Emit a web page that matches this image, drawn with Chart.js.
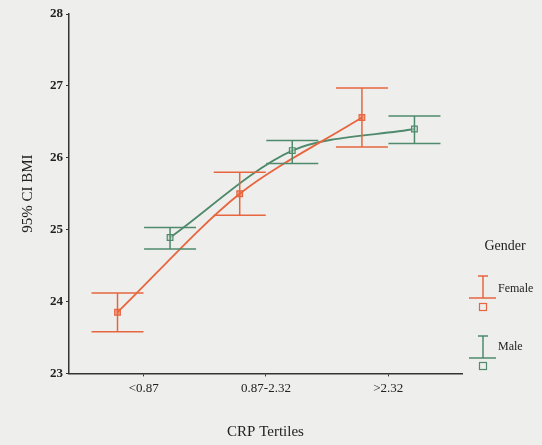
<!DOCTYPE html>
<html>
<head>
<meta charset="utf-8">
<script src="https://cdn.jsdelivr.net/npm/chart.js"></script>
<style>
  html, body { margin: 0; padding: 0; background: #eeeeec; }
  #wrap { position: relative; width: 542px; height: 445px; }
</style>
</head>
<body>
<div id="wrap"><canvas id="bmiChart" width="542" height="445"></canvas></div>
<script>
// CRP tertiles on the x axis
const categories = ['<0.87', '0.87-2.32', '>2.32'];

// mean BMI with 95% CI, per gender
const femaleMean = [23.85, 25.50, 26.56];
const femaleLow  = [23.58, 25.20, 26.15];
const femaleHigh = [24.12, 25.80, 26.97];

const maleMean = [24.89, 26.10, 26.40];
const maleLow  = [24.73, 25.92, 26.20];
const maleHigh = [25.03, 26.24, 26.58];

const yTicks = [23, 24, 25, 26, 27, 28];

const FEMALE = '#e8663f';
const MALE = '#4f8a6c';
const DODGE = 0.215;

const toPoints = (vals, shift) => vals.map((v, i) => ({ x: i + shift, y: v }));

// draws the CI whiskers and the little gender legend
const errorBars = {
    id: 'errorBars',
    afterDatasetsDraw(chart) {
        const { ctx, scales: { x, y } } = chart;
        const groups = [
            { low: femaleLow, high: femaleHigh, shift: -DODGE, color: FEMALE },
            { low: maleLow, high: maleHigh, shift: DODGE, color: MALE }
        ];
        ctx.save();
        ctx.lineWidth = 1.5;
        groups.forEach(g => {
            ctx.strokeStyle = g.color;
            g.low.forEach((lo, i) => {
                const px = x.getPixelForValue(i + g.shift);
                const top = y.getPixelForValue(g.high[i]);
                const bot = y.getPixelForValue(lo);
                ctx.beginPath();
                ctx.moveTo(px, top); ctx.lineTo(px, bot);
                ctx.moveTo(px - 26, top); ctx.lineTo(px + 26, top);
                ctx.moveTo(px - 26, bot); ctx.lineTo(px + 26, bot);
                ctx.stroke();
            });
        });

        // legend
        ctx.fillStyle = '#222';
        ctx.font = '14px "Liberation Serif", serif';
        ctx.textAlign = 'center';
        ctx.textBaseline = 'middle';
        ctx.fillText('Gender', 505, 246);
        const items = [
            { label: 'Female', color: FEMALE, top: 276, mid: 298, sq: 307, ty: 289 },
            { label: 'Male', color: MALE, top: 336, mid: 358, sq: 366, ty: 347 }
        ];
        items.forEach(it => {
            ctx.strokeStyle = it.color;
            ctx.lineWidth = 1.5;
            ctx.beginPath();
            ctx.moveTo(478, it.top); ctx.lineTo(488, it.top);
            ctx.moveTo(483, it.top); ctx.lineTo(483, it.mid);
            ctx.moveTo(469, it.mid); ctx.lineTo(496, it.mid);
            ctx.stroke();
            ctx.lineWidth = 1.2;
            ctx.strokeRect(479.5, it.sq - 3.5, 7, 7);
            ctx.fillStyle = '#222';
            ctx.font = '12px "Liberation Serif", serif';
            ctx.textAlign = 'left';
            ctx.fillText(it.label, 498, it.ty);
        });
        ctx.restore();
    }
};

new Chart(document.getElementById('bmiChart'), {
    type: 'line',
    data: {
        datasets: [{
            label: 'Female',
            data: toPoints(femaleMean, -DODGE),
            borderColor: FEMALE,
            backgroundColor: 'rgba(232,102,63,0.55)',
            borderWidth: 1.8,
            tension: 0.3,
            pointStyle: 'rect',
            pointRadius: 4,
            pointBorderWidth: 1.2
        }, {
            label: 'Male',
            data: toPoints(maleMean, DODGE),
            borderColor: MALE,
            backgroundColor: 'rgba(200,225,205,0.6)',
            borderWidth: 1.8,
            tension: 0.3,
            pointStyle: 'rect',
            pointRadius: 4,
            pointBorderWidth: 1.2
        }]
    },
    options: {
        responsive: false,
        animation: false,
        layout: { padding: { top: 14, right: 80, left: 15, bottom: 0 } },
        plugins: { legend: { display: false }, tooltip: { enabled: false } },
        scales: {
            x: {
                type: 'linear',
                min: -0.612,
                max: 2.604,
                afterBuildTicks: axis => { axis.ticks = categories.map((c, i) => ({ value: i })); },
                ticks: {
                    callback: v => categories[v],
                    color: '#222',
                    font: { family: '"Liberation Serif", serif', size: 13 },
                    padding: 4
                },
                grid: { drawOnChartArea: false, tickLength: 3, color: '#333' },
                border: { color: '#333', width: 1.5 },
                title: {
                    display: true,
                    text: 'CRP Tertiles',
                    color: '#222',
                    font: { family: '"Liberation Serif", serif', size: 15 },
                    padding: { top: 23 }
                }
            },
            y: {
                min: 23,
                max: 28,
                afterBuildTicks: axis => { axis.ticks = yTicks.map(v => ({ value: v })); },
                ticks: {
                    color: '#222',
                    font: { family: '"Liberation Serif", serif', size: 13, weight: 'bold' },
                    padding: 3
                },
                grid: { drawOnChartArea: false, tickLength: 3, color: '#333' },
                border: { color: '#333', width: 1.5 },
                title: {
                    display: true,
                    text: '95% CI BMI',
                    color: '#222',
                    font: { family: '"Liberation Serif", serif', size: 15 },
                    padding: { bottom: 10 }
                }
            }
        }
    },
    plugins: [errorBars]
});
</script>
</body>
</html>
